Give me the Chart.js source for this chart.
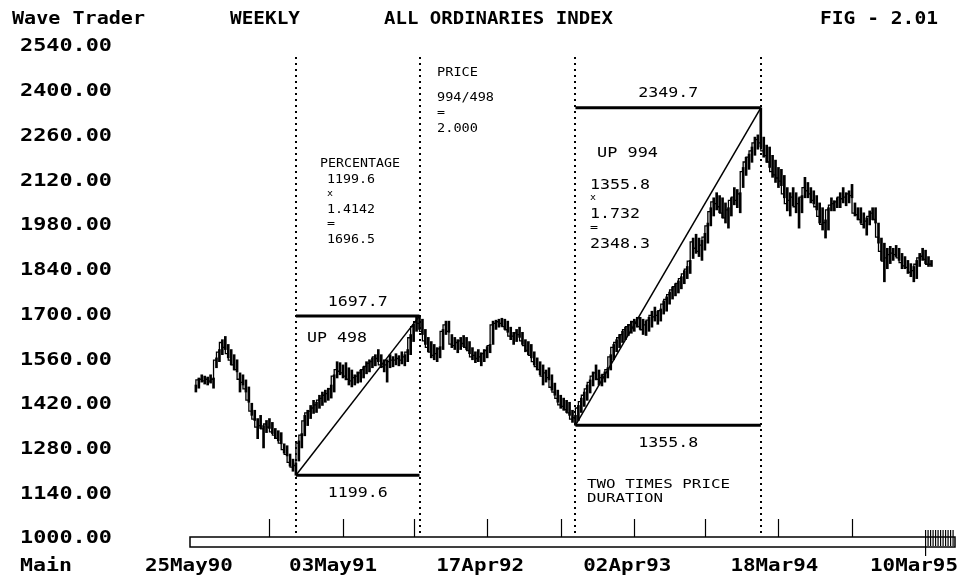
<!DOCTYPE html>
<html lang="en">
<head>
  <meta charset="UTF-8">
  <title>All Ordinaries Index - Weekly</title>
  <script src="https://cdn.jsdelivr.net/npm/chart.js"></script>
  <style>
    body { margin: 0; background: white; }
    .chart-container { width: 973px; height: 581px; position: relative; }
  </style>
</head>
<body>
  <div class="chart-container">
    <canvas id="waveChart"></canvas>
  </div>
  <script>
    // Weekly highs, lows and closes, 25May90 .. 10Mar95 (one value per week)
    const highs = [
      1482, 1504, 1514, 1510, 1507, 1514, 1504, 1567, 1593, 1624,
      1634, 1609, 1593, 1577, 1561, 1520, 1514, 1498, 1476, 1425,
      1403, 1377, 1387, 1355, 1371, 1377, 1365, 1346, 1339, 1333,
      1298, 1292, 1266, 1250, 1238, 1307, 1330, 1387, 1403, 1418,
      1434, 1428, 1450, 1460, 1466, 1472, 1482, 1514, 1555, 1552,
      1545, 1552, 1536, 1529, 1514, 1523, 1529, 1539, 1555, 1561,
      1567, 1577, 1593, 1577, 1561, 1561, 1577, 1571, 1580, 1574,
      1586, 1577, 1593, 1640, 1672, 1694, 1697.7, 1688, 1656, 1631,
      1618, 1609, 1599, 1602, 1656, 1682, 1682, 1640, 1631, 1624,
      1631, 1637, 1631, 1618, 1599, 1586, 1593, 1583, 1593, 1602,
      1609, 1682, 1685, 1688, 1691, 1688, 1682, 1663, 1647, 1656,
      1663, 1647, 1624, 1618, 1609, 1586, 1567, 1555, 1545, 1529,
      1536, 1514, 1488, 1466, 1450, 1441, 1434, 1428, 1403, 1387,
      1418, 1441, 1460, 1482, 1498, 1523, 1545, 1529, 1514, 1523,
      1536, 1577, 1609, 1624, 1640, 1650, 1663, 1672, 1682, 1688,
      1694, 1694, 1688, 1682, 1694, 1713, 1726, 1713, 1720, 1745,
      1758, 1773, 1789, 1799, 1808, 1821, 1840, 1853, 1872, 1942,
      1954, 1942, 1935, 1957, 1989, 2037, 2068, 2084, 2075, 2068,
      2052, 2037, 2068, 2100, 2094, 2084, 2163, 2195, 2205, 2227,
      2258, 2265, 2349.7, 2258, 2233, 2227, 2201, 2186, 2163, 2157,
      2138, 2100, 2084, 2100, 2084, 2068, 2075, 2132, 2116, 2100,
      2090, 2075, 2052, 2037, 1999, 2037, 2068, 2059, 2068, 2084,
      2100, 2084, 2090, 2110, 2052, 2037, 2037, 2021, 2005, 2027,
      2037, 2037, 1989, 1942, 1926, 1910, 1916, 1910, 1919, 1910,
      1894, 1884, 1872, 1862, 1853, 1872, 1894, 1910, 1904, 1884,
      1872
    ];
    const lows = [
      1460, 1472, 1491, 1485, 1482, 1488, 1472, 1536, 1555, 1577,
      1593, 1567, 1545, 1529, 1523, 1460, 1482, 1460, 1428, 1387,
      1371, 1314, 1346, 1285, 1333, 1346, 1330, 1314, 1307, 1298,
      1269, 1260, 1228, 1212, 1199.6, 1244, 1285, 1323, 1355, 1377,
      1393, 1396, 1409, 1418, 1428, 1434, 1441, 1460, 1504, 1514,
      1504, 1498, 1482, 1476, 1482, 1488, 1491, 1504, 1517, 1523,
      1536, 1542, 1555, 1536, 1523, 1491, 1536, 1539, 1545, 1542,
      1548, 1542, 1555, 1577, 1618, 1650, 1656, 1640, 1609, 1586,
      1567, 1561, 1555, 1567, 1593, 1640, 1647, 1599, 1593, 1583,
      1593, 1602, 1593, 1580, 1561, 1552, 1555, 1542, 1555, 1567,
      1583, 1609, 1656, 1663, 1666, 1656, 1647, 1624, 1609, 1618,
      1631, 1609, 1586, 1577, 1567, 1545, 1529, 1514, 1482, 1491,
      1498, 1466, 1450, 1428, 1409, 1403, 1396, 1387, 1365, 1355.8,
      1371, 1396, 1415, 1434, 1457, 1479, 1498, 1482, 1479, 1491,
      1504, 1529, 1561, 1586, 1599, 1615, 1624, 1637, 1644, 1650,
      1663, 1656, 1640, 1637, 1650, 1663, 1682, 1672, 1682, 1704,
      1713, 1735, 1751, 1761, 1770, 1783, 1799, 1815, 1831, 1878,
      1894, 1884, 1872, 1904, 1926, 1980, 2011, 2030, 2021, 2005,
      1989, 1973, 2011, 2046, 2037, 2021, 2100, 2138, 2157, 2179,
      2201, 2220, 2227, 2195, 2179, 2163, 2132, 2116, 2100, 2106,
      2068, 2027, 2011, 2043, 2021, 1973, 2021, 2068, 2068, 2052,
      2049, 2030, 1989, 1967, 1942, 1967, 2027, 2027, 2037, 2037,
      2052, 2043, 2052, 2068, 2011, 1999, 1989, 1973, 1951, 1983,
      1999, 1989, 1926, 1872, 1805, 1846, 1862, 1872, 1884, 1872,
      1846, 1846, 1831, 1821, 1805, 1815, 1853, 1872, 1862, 1853,
      1853
    ];
    const closes = [
      1478, 1498, 1500, 1495, 1500, 1494, 1500, 1560, 1585, 1615,
      1600, 1580, 1560, 1545, 1530, 1500, 1490, 1470, 1435, 1400,
      1375, 1350, 1355, 1345, 1360, 1350, 1335, 1325, 1315, 1300,
      1280, 1265, 1240, 1225, 1230, 1300, 1325, 1370, 1395, 1400,
      1410, 1420, 1435, 1440, 1450, 1455, 1470, 1510, 1530, 1525,
      1520, 1510, 1500, 1495, 1505, 1510, 1520, 1530, 1540, 1550,
      1555, 1570, 1565, 1545, 1540, 1545, 1555, 1560, 1560, 1565,
      1560, 1570, 1585, 1630, 1665, 1680, 1675, 1650, 1620, 1600,
      1585, 1575, 1580, 1595, 1650, 1670, 1650, 1610, 1605, 1615,
      1620, 1612, 1600, 1590, 1570, 1575, 1565, 1570, 1580, 1590,
      1605, 1670, 1675, 1680, 1675, 1665, 1655, 1635, 1635, 1645,
      1640, 1620, 1605, 1590, 1575, 1555, 1540, 1530, 1510, 1520,
      1505, 1475, 1460, 1440, 1420, 1415, 1405, 1395, 1375, 1380,
      1410, 1430, 1450, 1470, 1490, 1510, 1520, 1500, 1505, 1515,
      1530, 1570, 1600, 1615, 1630, 1640, 1655, 1665, 1670, 1680,
      1675, 1665, 1655, 1670, 1685, 1700, 1695, 1700, 1715, 1735,
      1750, 1765, 1780, 1790, 1800, 1815, 1830, 1845, 1870, 1930,
      1910, 1900, 1920, 1945, 1980, 2025, 2055, 2050, 2040, 2020,
      2005, 2030, 2060, 2070, 2060, 2080, 2150, 2180, 2195, 2215,
      2240, 2250, 2240, 2215, 2200, 2180, 2150, 2140, 2130, 2120,
      2080, 2050, 2060, 2070, 2040, 2050, 2070, 2100, 2090, 2080,
      2060, 2040, 2010, 1985, 1990, 2030, 2045, 2050, 2055, 2070,
      2065, 2070, 2080, 2075, 2020, 2015, 2000, 1985, 1995, 2010,
      2020, 2000, 1945, 1900, 1870, 1880, 1890, 1895, 1890, 1880,
      1865, 1855, 1850, 1835, 1840, 1860, 1880, 1885, 1875, 1860,
      1860
    ];

    // Axis labels
    const yTicks = [1000, 1140, 1280, 1420, 1560, 1700, 1840, 1980, 2120, 2260, 2400, 2540];
    const xTickWeeks = [0, 49, 99, 149, 199, 250];
    const xTickLabels = ['25May90', '03May91', '17Apr92', '02Apr93', '18Mar94', '10Mar95'];
    const barTickWeeks = [25, 50, 74, 99, 124, 149, 173, 198, 223];

    // Wave turning points (low, high, low, high)
    const waveWeeks = [34, 76, 129, 192];
    const waveValues = [1199.6, 1697.7, 1355.8, 2349.7];

    const barData = highs.map((h, i) => ({ x: i, y: [lows[i], h] }));
    const closeData = closes.map((c, i) => ({ x: i, y: c }));

    function levelLine(w0, w1, v) {
      return [{ x: w0, y: v }, { x: w1, y: v }];
    }

    const datasets = [
      {
        type: 'bar',
        data: barData,
        backgroundColor: '#000',
        borderWidth: 0,
        barThickness: 2,
        grouped: false
      },
      // close ticks joined as a step trace
      { type: 'line', data: closeData, stepped: 'after', borderColor: '#000', borderWidth: 1.3, pointRadius: 0 },
      // horizontal levels
      { type: 'line', data: levelLine(waveWeeks[0], waveWeeks[1], waveValues[1]), borderColor: '#000', borderWidth: 3, pointRadius: 0 },
      { type: 'line', data: levelLine(waveWeeks[0], waveWeeks[1], waveValues[0]), borderColor: '#000', borderWidth: 3, pointRadius: 0 },
      { type: 'line', data: levelLine(waveWeeks[2], waveWeeks[3], waveValues[3]), borderColor: '#000', borderWidth: 3, pointRadius: 0 },
      { type: 'line', data: levelLine(waveWeeks[2], waveWeeks[3], waveValues[2]), borderColor: '#000', borderWidth: 3, pointRadius: 0 },
      // diagonals
      { type: 'line', data: [{ x: waveWeeks[0], y: waveValues[0] }, { x: waveWeeks[1], y: waveValues[1] }], borderColor: '#000', borderWidth: 1.5, pointRadius: 0 },
      { type: 'line', data: [{ x: waveWeeks[2], y: waveValues[2] }, { x: waveWeeks[3], y: waveValues[3] }], borderColor: '#000', borderWidth: 1.5, pointRadius: 0 }
    ];

    function drawText(ctx, s, x, y, size, width, bold) {
      ctx.save();
      ctx.font = (bold ? 'bold ' : '') + size + 'px "DejaVu Sans Mono"';
      const w = ctx.measureText(s).width;
      const sx = width ? width / w : 1;
      ctx.translate(x, y);
      ctx.scale(sx, 1);
      ctx.textBaseline = 'middle';
      ctx.textAlign = 'left';
      ctx.fillStyle = '#000';
      ctx.fillText(s, 0, 0);
      ctx.restore();
    }

    const decorPlugin = {
      id: 'decor',
      afterDraw(chart) {
        const ctx = chart.ctx;
        const xs = chart.scales.x;
        const ys = chart.scales.y;
        const area = chart.chartArea;

        // header
        drawText(ctx, 'Wave Trader', 12, 20, 17, 133, true);
        drawText(ctx, 'WEEKLY', 230, 20, 17, 70, true);
        drawText(ctx, 'ALL ORDINARIES INDEX', 384, 20, 17, 229, true);
        drawText(ctx, 'FIG - 2.01', 820, 20, 17, 118, true);

        // y labels
        yTicks.forEach(v => {
          drawText(ctx, v.toFixed(2), 20, ys.getPixelForValue(v), 17, 92, true);
        });
        drawText(ctx, 'Main', 20, 567, 17, 52, true);

        // x labels (last one kept inside the page)
        xTickWeeks.forEach((w, i) => {
          const cx = xs.getPixelForValue(w) - 6;
          const lx = Math.min(cx - 45, 960 - 90);
          drawText(ctx, xTickLabels[i], lx, 567, 17, 88, true);
        });

        // bottom bar
        const left = xs.getPixelForValue(xs.min);
        const right = xs.getPixelForValue(xs.max);
        ctx.save();
        ctx.strokeStyle = '#000';
        ctx.lineWidth = 1.5;
        ctx.strokeRect(left, 537, right - left, 10);
        ctx.lineWidth = 1.2;
        barTickWeeks.forEach(w => {
          const px = Math.round(xs.getPixelForValue(w)) + 0.5;
          ctx.beginPath();
          ctx.moveTo(px, 519);
          ctx.lineTo(px, 537);
          ctx.stroke();
        });
        // scroll marker at the right end
        const hx0 = xs.getPixelForValue(248);
        for (let px = hx0; px <= right; px += 2.5) {
          ctx.beginPath();
          ctx.moveTo(px, 530);
          ctx.lineTo(px, 546);
          ctx.stroke();
        }
        ctx.beginPath();
        ctx.moveTo(hx0, 546);
        ctx.lineTo(hx0, 556);
        ctx.stroke();

        // dotted verticals at turning points
        ctx.lineWidth = 2;
        ctx.setLineDash([2, 4]);
        waveWeeks.forEach(w => {
          const px = Math.round(xs.getPixelForValue(w));
          ctx.beginPath();
          ctx.moveTo(px, area.top + 10);
          ctx.lineTo(px, 536);
          ctx.stroke();
        });
        ctx.restore();

        // level labels
        const mid1 = xs.getPixelForValue((waveWeeks[0] + waveWeeks[1]) / 2);
        const mid2 = xs.getPixelForValue((waveWeeks[2] + waveWeeks[3]) / 2);
        drawText(ctx, '1697.7', mid1 - 30, ys.getPixelForValue(waveValues[1]) - 14, 14, 60, false);
        drawText(ctx, '1199.6', mid1 - 30, ys.getPixelForValue(waveValues[0]) + 18, 14, 60, false);
        drawText(ctx, '2349.7', mid2 - 30, ys.getPixelForValue(waveValues[3]) - 14, 14, 60, false);
        drawText(ctx, '1355.8', mid2 - 30, ys.getPixelForValue(waveValues[2]) + 18, 14, 60, false);

        // annotation blocks
        drawText(ctx, 'PRICE', 437, 73, 12, 41, false);
        drawText(ctx, '994/498', 437, 98, 12, 57, false);
        drawText(ctx, '=', 437, 113, 10, 8, false);
        drawText(ctx, '2.000', 437, 129, 12, 41, false);

        drawText(ctx, 'PERCENTAGE', 320, 164, 12, 80, false);
        drawText(ctx, '1199.6', 327, 180, 12, 48, false);
        drawText(ctx, 'x', 327, 194, 9, 6, false);
        drawText(ctx, '1.4142', 327, 210, 12, 48, false);
        drawText(ctx, '=', 327, 224, 10, 8, false);
        drawText(ctx, '1696.5', 327, 240, 12, 48, false);

        drawText(ctx, 'UP 498', 307, 338, 14, 60, false);
        drawText(ctx, 'UP 994', 597, 153, 14, 61, false);

        drawText(ctx, '1355.8', 590, 185, 14, 60, false);
        drawText(ctx, 'x', 590, 198, 9, 6, false);
        drawText(ctx, '1.732', 590, 214, 14, 50, false);
        drawText(ctx, '=', 590, 228, 10, 8, false);
        drawText(ctx, '2348.3', 590, 244, 14, 60, false);

        drawText(ctx, 'TWO TIMES PRICE', 587, 485, 12, 143, false);
        drawText(ctx, 'DURATION', 587, 499, 12, 76, false);
      }
    };

    new Chart(document.getElementById('waveChart'), {
      type: 'bar',
      data: { datasets: datasets },
      options: {
        responsive: true,
        maintainAspectRatio: false,
        animation: false,
        layout: { padding: { left: 190, right: 18, top: 47, bottom: 42 } },
        plugins: {
          legend: { display: false },
          tooltip: { enabled: false }
        },
        scales: {
          x: { type: 'linear', min: -2, max: 258, offset: false, display: false },
          y: { min: 1000, max: 2540, display: false }
        }
      },
      plugins: [decorPlugin]
    });
  </script>
</body>
</html>
